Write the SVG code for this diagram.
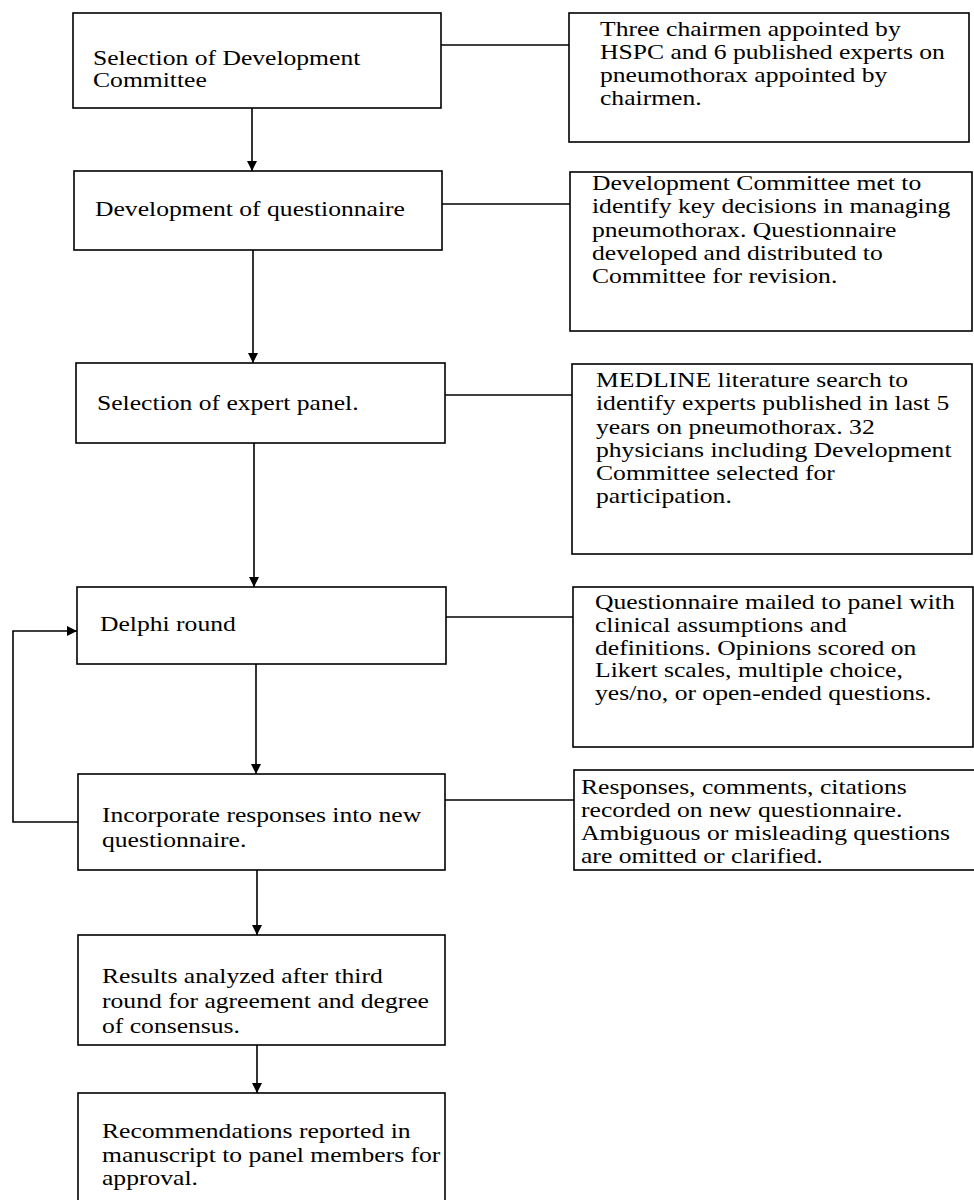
<svg xmlns="http://www.w3.org/2000/svg" width="974" height="1200" viewBox="0 0 974 1200">
<style>
.box{fill:#fff;stroke:#000;stroke-width:1.6}
.ln{fill:none;stroke:#000;stroke-width:1.6}
.t{font-family:"Liberation Serif","Times New Roman",serif;font-size:21px;fill:#000}
</style>
<defs>
<marker id="ah" markerUnits="userSpaceOnUse" markerWidth="10" markerHeight="10" viewBox="0 0 10 10" refX="10" refY="5" orient="auto">
<path d="M0,0 L10,5 L0,10 z" fill="#000"/>
</marker>
</defs>
<rect x="0" y="0" width="974" height="1200" fill="#fff"/>
<g id="connectors">
<line class="ln" x1="441" y1="45" x2="569" y2="45"/>
<line class="ln" x1="442" y1="204" x2="570" y2="204"/>
<line class="ln" x1="445" y1="395" x2="572" y2="395"/>
<line class="ln" x1="446" y1="617" x2="573" y2="617"/>
<line class="ln" x1="445" y1="800" x2="574" y2="800"/>
<line class="ln" x1="252" y1="108" x2="252" y2="171" marker-end="url(#ah)"/>
<line class="ln" x1="253" y1="250" x2="253" y2="363" marker-end="url(#ah)"/>
<line class="ln" x1="254" y1="443" x2="254" y2="587" marker-end="url(#ah)"/>
<line class="ln" x1="256" y1="664" x2="256" y2="774" marker-end="url(#ah)"/>
<line class="ln" x1="257" y1="870" x2="257" y2="935" marker-end="url(#ah)"/>
<line class="ln" x1="257" y1="1045" x2="257" y2="1093" marker-end="url(#ah)"/>
<polyline class="ln" points="78,822 13,822 13,631 77,631" marker-end="url(#ah)"/>
</g>
<g id="n1">
<rect class="box" x="73" y="13" width="368" height="95"/>
<text class="t" transform="translate(93 65) scale(1.22 1)"><tspan x="0" y="0">Selection of Development</tspan><tspan x="0" y="22">Committee</tspan></text>
</g>
<g id="r1">
<rect class="box" x="569" y="13" width="400" height="129"/>
<text class="t" transform="translate(600 36) scale(1.22 1)"><tspan x="0" y="0">Three chairmen appointed by</tspan><tspan x="0" y="23">HSPC and 6 published experts on</tspan><tspan x="0" y="46">pneumothorax appointed by</tspan><tspan x="0" y="69">chairmen.</tspan></text>
</g>
<g id="n2">
<rect class="box" x="74" y="171" width="368" height="79"/>
<text class="t" transform="translate(95 216) scale(1.22 1)">Development of questionnaire</text>
</g>
<g id="r2">
<rect class="box" x="570" y="172" width="402" height="159"/>
<text class="t" transform="translate(592 190) scale(1.22 1)"><tspan x="0" y="0">Development Committee met to</tspan><tspan x="0" y="23.3">identify key decisions in managing</tspan><tspan x="0" y="46.6">pneumothorax. Questionnaire</tspan><tspan x="0" y="69.9">developed and distributed to</tspan><tspan x="0" y="93.2">Committee for revision.</tspan></text>
</g>
<g id="n3">
<rect class="box" x="76" y="363" width="369" height="80"/>
<text class="t" transform="translate(97 410) scale(1.22 1)">Selection of expert panel.</text>
</g>
<g id="r3">
<rect class="box" x="572" y="364" width="400" height="190"/>
<text class="t" transform="translate(596 387) scale(1.22 1)"><tspan x="0" y="0">MEDLINE literature search to</tspan><tspan x="0" y="23.3">identify experts published in last 5</tspan><tspan x="0" y="46.6">years on pneumothorax. 32</tspan><tspan x="0" y="69.9">physicians including Development</tspan><tspan x="0" y="93.2">Committee selected for</tspan><tspan x="0" y="116.5">participation.</tspan></text>
</g>
<g id="n4">
<rect class="box" x="77" y="587" width="369" height="77"/>
<text class="t" transform="translate(100 631) scale(1.22 1)">Delphi round</text>
</g>
<g id="r4">
<rect class="box" x="573" y="587" width="400" height="160"/>
<text class="t" transform="translate(595 609) scale(1.22 1)"><tspan x="0" y="0">Questionnaire mailed to panel with</tspan><tspan x="0" y="22.8">clinical assumptions and</tspan><tspan x="0" y="45.6">definitions. Opinions scored on</tspan><tspan x="0" y="68.4">Likert scales, multiple choice,</tspan><tspan x="0" y="91.2">yes/no, or open-ended questions.</tspan></text>
</g>
<g id="n5">
<rect class="box" x="78" y="774" width="367" height="96"/>
<text class="t" transform="translate(102 822) scale(1.22 1)"><tspan x="0" y="0">Incorporate responses into new</tspan><tspan x="0" y="25">questionnaire.</tspan></text>
</g>
<g id="r5">
<rect class="box" x="574" y="770" width="410" height="100"/>
<text class="t" transform="translate(581 794) scale(1.22 1)"><tspan x="0" y="0">Responses, comments, citations</tspan><tspan x="0" y="23">recorded on new questionnaire.</tspan><tspan x="0" y="46">Ambiguous or misleading questions</tspan><tspan x="0" y="69">are omitted or clarified.</tspan></text>
</g>
<g id="n6">
<rect class="box" x="78" y="935" width="367" height="110"/>
<text class="t" transform="translate(102 983) scale(1.22 1)"><tspan x="0" y="0">Results analyzed after third</tspan><tspan x="0" y="25">round for agreement and degree</tspan><tspan x="0" y="50">of consensus.</tspan></text>
</g>
<g id="n7">
<rect class="box" x="78" y="1093" width="367" height="130"/>
<text class="t" transform="translate(102 1138) scale(1.22 1)"><tspan x="0" y="0">Recommendations reported in</tspan><tspan x="0" y="24">manuscript to panel members for</tspan><tspan x="0" y="47">approval.</tspan></text>
</g>
</svg>
